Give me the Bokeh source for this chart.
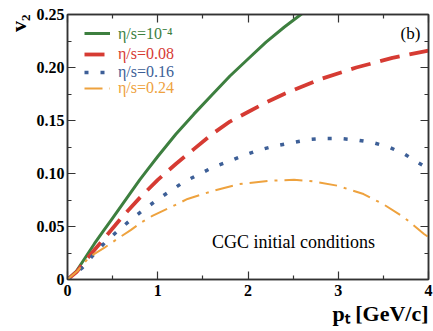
import numpy as np
from bokeh.plotting import figure
from bokeh.models import (FixedTicker, LinearAxis, Label, Legend, LegendItem, Range1d, Title)
from bokeh.embed import file_html
from bokeh.resources import INLINE

# ---- data ----
pt_g = [0, 0.1, 0.2, 0.3, 0.4, 0.5, 0.6, 0.7, 0.8, 0.9, 1.0, 1.2, 1.4, 1.6, 1.8, 2.0, 2.2, 2.4, 2.6]
v2_g = [0, 0.008, 0.021, 0.034, 0.046, 0.058, 0.070, 0.082, 0.094, 0.105, 0.116, 0.137, 0.156, 0.174, 0.192, 0.208, 0.224, 0.238, 0.251]

pt_r = [0, 0.1, 0.2, 0.3, 0.4, 0.6, 0.8, 1.0, 1.2, 1.4, 1.6, 1.8, 2.0, 2.2, 2.4, 2.8, 3.2, 3.6, 4.0]
v2_r = [0, 0.007, 0.018, 0.028, 0.038, 0.0585, 0.077, 0.094, 0.109, 0.123, 0.137, 0.149, 0.158, 0.167, 0.175, 0.189, 0.200, 0.209, 0.216]

pt_b = [0, 0.166, 0.284, 0.41, 0.546, 0.68, 0.82, 0.98, 1.13, 1.28, 1.44, 1.61, 1.77, 1.95, 2.12, 2.30, 2.48, 2.67, 2.84, 3.02, 3.21, 3.39, 3.57, 3.74, 3.89, 3.97]
v2_b = [0, 0.0113, 0.023, 0.0344, 0.045, 0.0548, 0.0642, 0.0743, 0.083, 0.0916, 0.0985, 0.1058, 0.111, 0.117, 0.122, 0.126, 0.129, 0.132, 0.133, 0.133, 0.1316, 0.129, 0.1246, 0.118, 0.110, 0.106]

pt_o = [0, 0.11, 0.24, 0.41, 0.52, 0.70, 0.82, 0.94, 1.14, 1.33, 1.62, 1.90, 2.25, 2.51, 2.73, 2.99, 3.28, 3.50, 3.73, 3.95, 4.0]
v2_o = [0, 0.008, 0.021, 0.030, 0.0365, 0.0466, 0.054, 0.060, 0.068, 0.076, 0.0838, 0.090, 0.0932, 0.0941, 0.0925, 0.0885, 0.0806, 0.071, 0.0585, 0.0429, 0.040]

labels = ["η/s=10⁻⁴", "η/s=0.08", "η/s=0.16", "η/s=0.24"]
x_ticks = [0, 1, 2, 3, 4]
x_minor = [0.5, 1.5, 2.5, 3.5]
y_ticks = [0, 0.05, 0.10, 0.15, 0.20, 0.25]
y_tick_labels = ["0", "0.05", "0.10", "0.15", "0.20", "0.25"]
y_minor = [0.025, 0.075, 0.125, 0.175, 0.225]

GREEN = "#3d7f3f"
RED = "#d63b33"
BLUE = "#3d5f97"
ORANGE = "#eea23e"
SERIF = "Liberation Serif"

p = figure(width=433, height=331, output_backend="svg", toolbar_location=None,
           x_range=Range1d(0, 4), y_range=Range1d(0, 0.25),
           min_border_left=67, min_border_right=5, min_border_top=14, min_border_bottom=52)
p.grid.visible = False
p.outline_line_color = "#333333"
p.outline_line_width = 1.5
p.background_fill_color = "white"
p.border_fill_color = "white"

r_g = p.line(pt_g, v2_g, line_color=GREEN, line_width=3)
r_r = p.line(pt_r, v2_r, line_color=RED, line_width=3.8, line_dash="20 10")
r_b = p.line(pt_b, v2_b, line_color=BLUE, line_width=3.5, line_dash="4 12")
r_o = p.line(pt_o, v2_o, line_color=ORANGE, line_width=2, line_dash="18 7 3 7")

def style_axis(ax, show_labels):
    ax.axis_line_color = "#333333"
    ax.axis_line_width = 1.5
    ax.major_tick_in = 8
    ax.major_tick_out = 0
    ax.minor_tick_in = 4
    ax.minor_tick_out = 0
    ax.major_tick_line_color = "#333333"
    ax.minor_tick_line_color = "#333333"
    ax.major_tick_line_width = 1.2
    ax.minor_tick_line_width = 1.2
    ax.major_label_text_font = SERIF
    ax.major_label_text_font_style = "bold"
    ax.major_label_text_font_size = "16px"
    ax.major_label_text_color = "black"
    if not show_labels:
        ax.major_label_text_alpha = 0
        ax.major_label_text_font_size = "0px"
        ax.major_label_standoff = 0

xt = FixedTicker(ticks=x_ticks, minor_ticks=x_minor)
yt = FixedTicker(ticks=y_ticks, minor_ticks=y_minor)
p.xaxis.ticker = xt
p.yaxis.ticker = yt
p.yaxis.major_label_overrides = {t: s for t, s in zip(y_ticks, y_tick_labels)}
style_axis(p.xaxis[0], True)
style_axis(p.yaxis[0], True)
p.xaxis.major_label_standoff = 5
p.yaxis.major_label_standoff = 3

top = LinearAxis(ticker=FixedTicker(ticks=x_ticks, minor_ticks=x_minor))
right = LinearAxis(ticker=FixedTicker(ticks=y_ticks, minor_ticks=y_minor))
style_axis(top, False)
style_axis(right, False)
p.add_layout(top, "above")
p.add_layout(right, "right")

# legends, one per entry so each text has its own colour
renderers = [r_g, r_r, r_b, r_o]
colors = [GREEN, RED, BLUE, ORANGE]
locs = [(17, 235), (17, 216), (17, 198), (17, 182)]
for r, lab, c, loc in zip(renderers, labels, colors, locs):
    lg = Legend(items=[LegendItem(label=lab, renderers=[r])], location=loc,
                background_fill_alpha=0, border_line_alpha=0, padding=0, margin=0,
                spacing=0, glyph_width=26, glyph_height=16, label_height=16,
                label_standoff=8, label_text_font=SERIF, label_text_font_size="16px",
                label_text_color=c)
    p.add_layout(lg, "center")

p.add_layout(Label(x=3.91, y=0.232, text="(b)", text_align="right", text_baseline="middle",
                   text_font=SERIF, text_font_size="17px", text_color="black"))
p.add_layout(Label(x=1.60, y=0.035, text="CGC initial conditions", text_align="left",
                   text_baseline="middle", text_font=SERIF, text_font_size="18px",
                   text_color="black"))

# axis titles
xt_title = Title(text="pₜ [GeV/c]", align="right", text_font=SERIF, text_font_style="bold",
                 text_font_size="22px", text_color="black", standoff=0)
yt_title = Title(text="v₂", align="right", text_font=SERIF, text_font_style="bold",
                 text_font_size="22px", text_color="black", standoff=6)
p.add_layout(xt_title, "below")
p.add_layout(yt_title, "left")

open("out.html", "w").write(file_html(p, INLINE))
